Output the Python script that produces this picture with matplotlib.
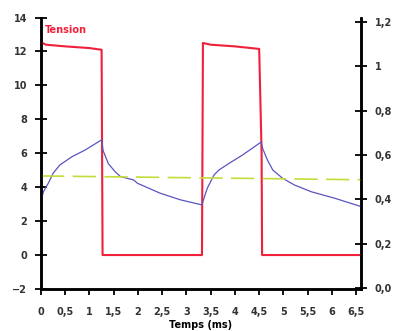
import matplotlib.pyplot as plt

# Tension (V) - left axis
t_tension = [0, 0.1, 0.5, 1.0, 1.25, 1.26, 1.27, 3.32, 3.33, 3.34, 3.5, 4.0, 4.5, 4.55, 4.56, 6.6]
tension = [12.55, 12.4, 12.3, 12.2, 12.1, 6.0, 0, 0, 6.0, 12.5, 12.4, 12.3, 12.15, 6.0, 0, 0]

# Courant (right axis)
t_courant = [0, 0.05, 0.15, 0.25, 0.39, 0.64, 0.91, 1.25,
             1.28, 1.39, 1.53, 1.64, 1.91, 1.99, 2.46, 2.88, 3.29, 3.32,
             3.34, 3.43, 3.57, 3.67, 3.88, 4.16, 4.54,
             4.57, 4.67, 4.78, 4.98, 5.22, 5.57, 6.05, 6.6]
courant = [0.39, 0.434, 0.472, 0.517, 0.555, 0.592, 0.622, 0.668,
           0.62, 0.56, 0.524, 0.502, 0.487, 0.472, 0.427, 0.397, 0.376, 0.374,
           0.39, 0.45, 0.51, 0.532, 0.562, 0.60, 0.658,
           0.63, 0.577, 0.532, 0.495, 0.465, 0.434, 0.405, 0.367]

# Valeur moyenne (pointillés)
t_moy = [0, 6.6]
moyenne = [0.505, 0.488]

xticks = [0, 0.5, 1, 1.5, 2, 2.5, 3, 3.5, 4, 4.5, 5, 5.5, 6, 6.5]
xlabels = ["0", "0,5", "1", "1,5", "2", "2,5", "3", "3,5", "4", "4,5", "5", "5,5", "6", "6,5"]
yticks_l = [-2, 0, 2, 4, 6, 8, 10, 12, 14]
yticks_r = [0.0, 0.2, 0.4, 0.6, 0.8, 1.0, 1.2]
ylabels_r = ["0,0", "0,2", "0,4", "0,6", "0,8", "1", "1,2"]

fig = plt.figure(figsize=(4, 3.31), dpi=100)
ax = fig.add_axes([0.1025, 0.127, 0.8, 0.82])
ax2 = ax.twinx()

ax.plot(t_tension, tension, color="#f0203a", lw=1.5, zorder=3)
ax2.plot(t_courant, courant, color="#5a55c0", lw=0.9)
ax2.plot(t_moy, moyenne, color="#c5dc3a", lw=1.2, dashes=(14, 5))

ax.set_xlim(0, 6.6)
ax.set_ylim(-2, 14)
ax2.set_ylim(-0.005, 1.22)

ax.set_xticks(xticks)
ax.set_xticklabels(xlabels)
ax.set_yticks(yticks_l)
ax2.set_yticks(yticks_r)
ax2.set_yticklabels(ylabels_r)

for a in (ax, ax2):
    a.spines["top"].set_visible(False)
    for s in ("left", "right", "bottom"):
        a.spines[s].set_linewidth(1.8)

ax.tick_params(axis="y", direction="inout", length=8, width=1.3, labelsize=7, pad=6)
ax2.tick_params(axis="y", direction="inout", length=8, width=1.3, labelsize=7, pad=6)
ax.tick_params(axis="x", direction="out", length=4, width=1.3, labelsize=7, pad=9)
for lbl in ax.get_xticklabels() + ax.get_yticklabels() + ax2.get_yticklabels():
    lbl.set_fontweight("bold")
    lbl.set_color("#333333")

ax.text(0.08, 13.1, "Tension", color="#f0203a", fontsize=7, fontweight="bold")
ax.set_xlabel("Temps (ms)", fontsize=7, fontweight="bold", labelpad=2)

fig.savefig("out.png", dpi=100)
